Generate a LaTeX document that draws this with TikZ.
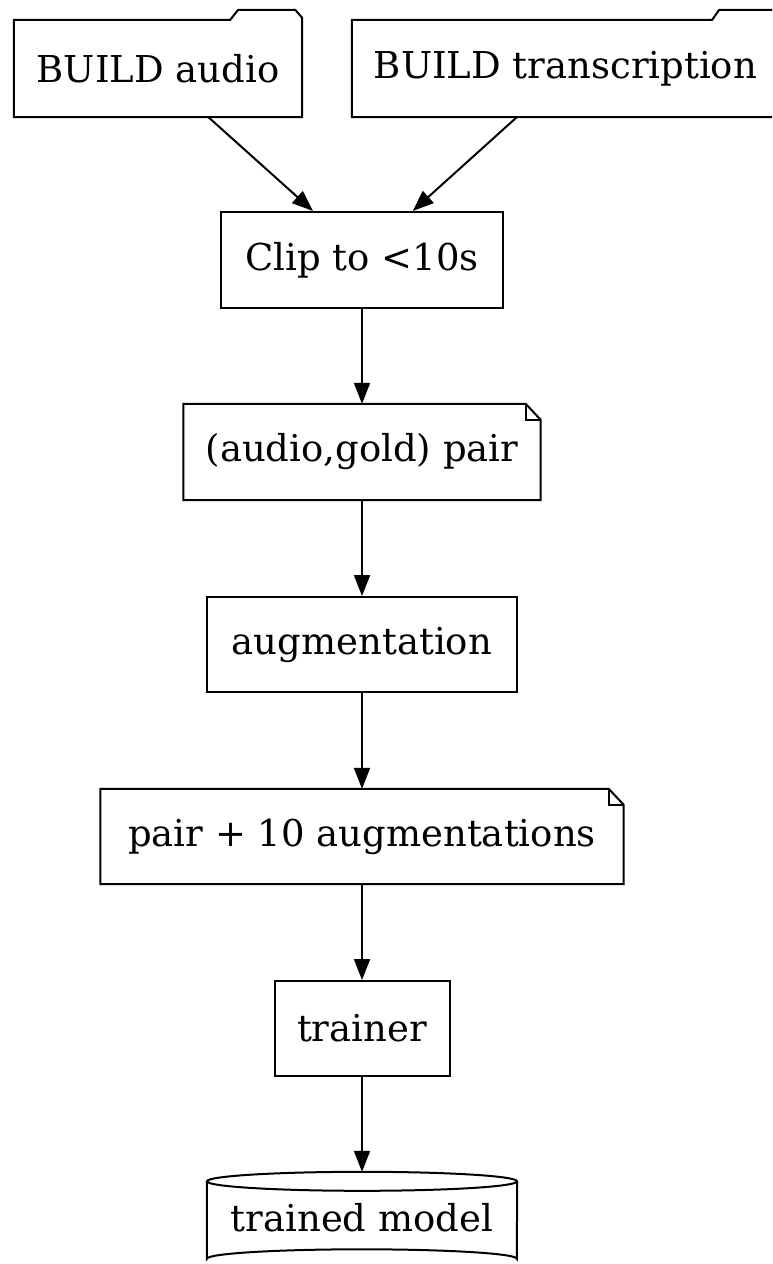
\documentclass[tikz,border=0pt]{standalone}
\usepackage{fontspec}
\setmainfont{DejaVu Serif}
\usetikzlibrary{arrows.meta,calc}
\begin{document}
\begin{tikzpicture}[x=1pt,y=-1pt,
  box/.style={draw=none,rectangle,inner sep=0pt,font=\fontsize{37}{42}\selectfont},
  ln/.style={line width=2pt,black},
  arr/.style={line width=2pt,-{Triangle[length=21pt,width=16pt]}},
]
\useasboundingbox (0,0) rectangle (772,1264);
\clip (0,0) rectangle (772,1264);
\fill[white] (0,0) rectangle (772,1264);

\node[box,minimum width=288pt,minimum height=97pt] (audio) at (158,68.5) {BUILD audio};
\node[box,minimum width=427pt,minimum height=97pt] (trans) at (565.5,68.5) {BUILD transcription};
\node[box,draw,ln,minimum width=282pt,minimum height=96pt] (clip) at (362,260) {Clip to <10s};
\node[box,minimum width=357pt,minimum height=96pt] (pair) at (362,452) {(audio,gold) pair};
\node[box,draw,ln,minimum width=310pt,minimum height=95pt] (aug) at (362,644.5) {augmentation};
\node[box,minimum width=523pt,minimum height=95pt] (pairten) at (362,836.5) {pair + 10 augmentations};
\node[box,draw,ln,minimum width=175pt,minimum height=95pt] (trainer) at (362,1028.5) {trainer};
\node[box,minimum width=310pt,minimum height=92pt] (model) at (362,1218) {trained model};

% folders
\draw[ln,line join=miter] (audio.north west) -- ($(audio.north east)+(-72,0)$) -- ++(8,-10) -- ($(audio.north east)+(-7,-10)$) -- ($(audio.north east)+(0,-2)$) -- (audio.south east) -- (audio.south west) -- cycle;
\draw[ln,line join=miter] (trans.north west) -- ($(trans.north east)+(-67,0)$) -- ++(7,-10) -- ($(trans.north east)+(-7,-10)$) -- ($(trans.north east)+(0,-2)$) -- (trans.south east) -- (trans.south west) -- cycle;

% notes
\foreach \n in {pair,pairten}{
  \draw[ln] (\n.north west) -- ($(\n.north east)+(-15,0)$) -- ($(\n.north east)+(0,16)$) -- (\n.south east) -- (\n.south west) -- cycle;
  \draw[ln] ($(\n.north east)+(-15,0)$) -- ($(\n.north east)+(-15,16)$) -- ($(\n.north east)+(0,16)$);
}

% cylinder
\coordinate (cl) at ($(model.north west)+(0,9.5)$);
\coordinate (cr) at ($(model.north east)+(0,9.5)$);
\draw[ln] ($(model.north)+(0,9.5)$) ellipse [x radius=155, y radius=9.5];
\draw[ln] (cl) -- ($(model.north west)+(0,87)$) arc[start angle=180,end angle=360,x radius=155,y radius=9.5] -- (cr);

% edges
\draw[arr] (audio.-44) -- (clip.135);
\draw[arr] (trans.-135) -- (clip.44.4);
\draw[arr] (clip.south) -- (pair.north);
\draw[arr] (pair.south) -- (aug.north);
\draw[arr] (aug.south) -- (pairten.north);
\draw[arr] (pairten.south) -- (trainer.north);
\draw[arr] (trainer.south) -- (model.north);
\end{tikzpicture}
\end{document}
